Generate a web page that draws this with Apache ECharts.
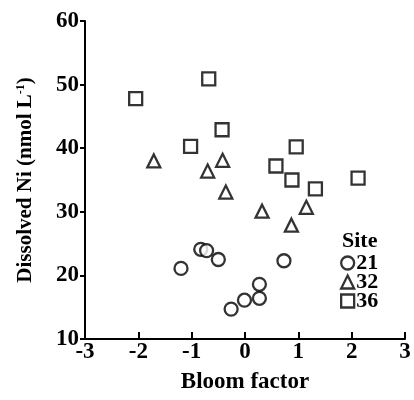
<!DOCTYPE html>
<html>
<head>
<meta charset="utf-8">
<script src="https://cdn.jsdelivr.net/npm/echarts@6/dist/echarts.min.js"></script>
<style>
  html, body { margin: 0; padding: 0; background: #fff; }
  #chart { width: 414px; height: 400px; }
</style>
</head>
<body>
<div id="chart"></div>
<script>
// 每个站点的 [bloom factor, 溶解Ni] 数据
var site21 = [[-1.20, 21.1], [-0.83, 24.1], [-0.72, 23.9], [-0.50, 22.5], [0.73, 22.3],
              [0.27, 18.6], [0.27, 16.4], [-0.01, 16.1], [-0.26, 14.7]];
var site32 = [[-1.71, 38.0], [-0.70, 36.4], [-0.42, 38.1], [-0.36, 33.1],
              [0.32, 30.1], [1.15, 30.7], [0.87, 27.9]];
var site36 = [[-2.05, 47.8], [-0.68, 50.9], [-1.02, 40.3], [-0.43, 42.9], [0.58, 37.2],
              [0.96, 40.2], [0.88, 35.0], [1.32, 33.6], [2.12, 35.3]];
var siteNames = ['21', '32', '36'];
var siteSymbols = ['circle', 'triangle', 'rect'];

var font = 'Liberation Serif';
var hollow = { color: '#fff', borderColor: '#000', borderWidth: 2.3 };

var myChart = echarts.init(document.getElementById('chart'));
var option = {
    backgroundColor: '#fff',
    animation: false,
    title: {
        text: 'Site',
        left: 342,
        top: 229,
        padding: 0,
        textStyle: { fontFamily: font, fontWeight: 'bold', fontSize: 22, color: '#000', lineHeight: 24 }
    },
    legend: {
        orient: 'vertical',
        left: 340,
        top: 252,
        padding: 0,
        itemWidth: 13,
        itemHeight: 13,
        itemGap: -3,
        textStyle: { fontFamily: font, fontWeight: 'bold', fontSize: 22, color: '#000', lineHeight: 18, padding: [0, 0, 0, -3] },
        data: siteNames.map(function (n, i) {
            return { name: n, icon: siteSymbols[i], itemStyle: hollow };
        })
    },
    grid: { left: 85, right: 9, top: 21, bottom: 61 },
    xAxis: {
        type: 'value',
        min: -3, max: 3, interval: 1,
        name: 'Bloom factor',
        nameLocation: 'middle',
        nameGap: 32,
        nameTextStyle: { fontFamily: font, fontWeight: 'bold', fontSize: 23, color: '#000' },
        axisLine: { onZero: false, lineStyle: { color: '#000', width: 2 } },
        axisTick: { inside: true, length: 7, lineStyle: { color: '#000', width: 2 } },
        axisLabel: { fontFamily: font, fontWeight: 'bold', fontSize: 23, color: '#000', margin: 2 },
        splitLine: { show: false }
    },
    yAxis: {
        type: 'value',
        min: 10, max: 60, interval: 10,
        name: 'Dissolved Ni (nmol L{sup|-1})',
        nameLocation: 'middle',
        nameGap: 49,
        nameTextStyle: {
            fontFamily: font, fontWeight: 'bold', fontSize: 21, color: '#000',
            rich: { sup: { fontFamily: font, fontWeight: 'bold', fontSize: 12, color: '#000', padding: [0, 0, 9, 0] } }
        },
        axisLine: { show: true, onZero: false, lineStyle: { color: '#000', width: 2 } },
        axisTick: { show: true, length: 5, lineStyle: { color: '#000', width: 2 } },
        axisLabel: { fontFamily: font, fontWeight: 'bold', fontSize: 23, color: '#000', margin: 6 },
        splitLine: { show: false }
    },
    series: [site21, site32, site36].map(function (d, i) {
        return {
            name: siteNames[i],
            type: 'scatter',
            symbol: siteSymbols[i],
            symbolSize: 13,
            itemStyle: hollow,
            data: d
        };
    })
};
myChart.setOption(option);
</script>
</body>
</html>
